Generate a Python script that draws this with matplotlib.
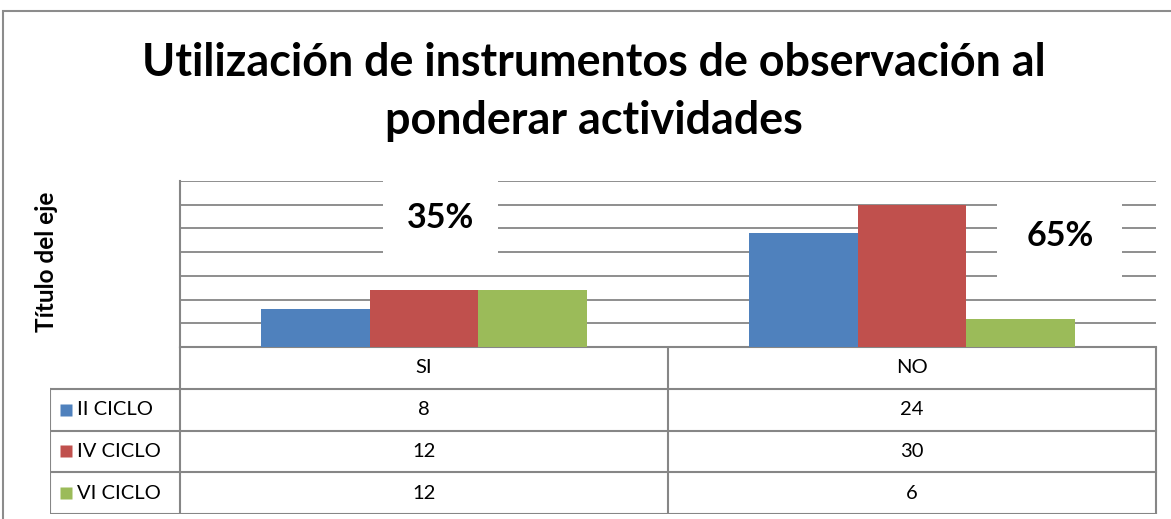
import matplotlib
matplotlib.use('Agg')
import matplotlib.pyplot as plt
from matplotlib.patches import Rectangle

categories = ['SI', 'NO']
series_names = ['II CICLO', 'IV CICLO', 'VI CICLO']
ii_ciclo = [8, 24]
iv_ciclo = [12, 30]
vi_ciclo = [12, 6]
pct_labels = ['35%', '65%']

colors = ['#4F81BD', '#C0504D', '#9BBB59']
grid_col = '#868686'
font = 'Lato'

W, H = 1171, 519
fig = plt.figure(figsize=(W / 100, H / 100), dpi=100)

def px_axes(x0, y0, x1, y1):
    return fig.add_axes([x0 / W, 1 - y1 / H, (x1 - x0) / W, (y1 - y0) / H])

# outer chart border
fig.patches.append(Rectangle((3 / W, -0.05), 1.1, 1 - 11 / H + 0.05, transform=fig.transFigure,
                             fill=False, edgecolor='#8c8c8c', lw=1.5))

fig.text(594 / W, 1 - 63 / H, 'Utilización de instrumentos de observación al',
         ha='center', va='center', fontsize=32.3, fontweight='bold', family=font)
fig.text(594 / W, 1 - 121 / H, 'ponderar actividades',
         ha='center', va='center', fontsize=32.3, fontweight='bold', family=font)
fig.text(46 / W, 1 - 262 / H, 'Título del eje', rotation=90, ha='center', va='center',
         fontsize=17.5, fontweight='bold', family=font)

ax = px_axes(180, 181, 1156, 347)
series = [ii_ciclo, iv_ciclo, vi_ciclo]
bw = 0.222
for i, vals in enumerate(series):
    ax.bar([c + (i - 1) * bw for c in range(len(categories))], vals, width=bw,
           color=colors[i], zorder=3)
ax.set_xlim(-0.5, 1.5)
ax.set_ylim(0, 35)
ax.set_yticks(range(0, 36, 5))
ax.yaxis.grid(True, color=grid_col, lw=1.3, zorder=0)
ax.set_axisbelow(True)
ax.tick_params(left=False, bottom=False, labelleft=False, labelbottom=False)
for s in ['top', 'right']:
    ax.spines[s].set_visible(False)
for s in ['left', 'bottom']:
    ax.spines[s].set_color(grid_col)
    ax.spines[s].set_linewidth(1.5)

# percentage labels in white boxes
ax.text(0.033, 27.3, pct_labels[0], ha='center', va='center', fontsize=24.5, fontweight='bold',
        family=font, zorder=2, bbox=dict(boxstyle='square,pad=0.7', fc='white', ec='none'))
ax.text(1.303, 23.5, pct_labels[1], ha='center', va='center', fontsize=24.5, fontweight='bold',
        family=font, zorder=2, bbox=dict(boxstyle='square,pad=0.85', fc='white', ec='none'))

# data table
tx = px_axes(50, 347, 1158, 514)
left = -0.5 - 130 / 488
tx.set_xlim(left, 1.5 + 2 / 488)
tx.set_ylim(4, 0)
tx.axis('off')
lc = dict(color=grid_col, lw=1.5)
for r in range(1, 5):
    tx.plot([left, 1.5], [r, r], **lc)
tx.plot([left, left], [1, 4], **lc)
for xv in [-0.5, 0.5, 1.5]:
    tx.plot([xv, xv], [0, 4], **lc)
for j, cat in enumerate(categories):
    tx.text(j, 0.5, cat, ha='center', va='center', fontsize=14.5, family=font)
for i, (name, vals) in enumerate(zip(series_names, series)):
    tx.plot(left + 16 / 488, i + 1.5, marker='s', ms=9, color=colors[i], mec='none')
    tx.text(left + 27 / 488, i + 1.5, name, ha='left', va='center', fontsize=14.5, family=font)
    for j, v in enumerate(vals):
        tx.text(j, i + 1.5, str(v), ha='center', va='center', fontsize=14.5, family=font)

fig.savefig('out.png', dpi=100)
